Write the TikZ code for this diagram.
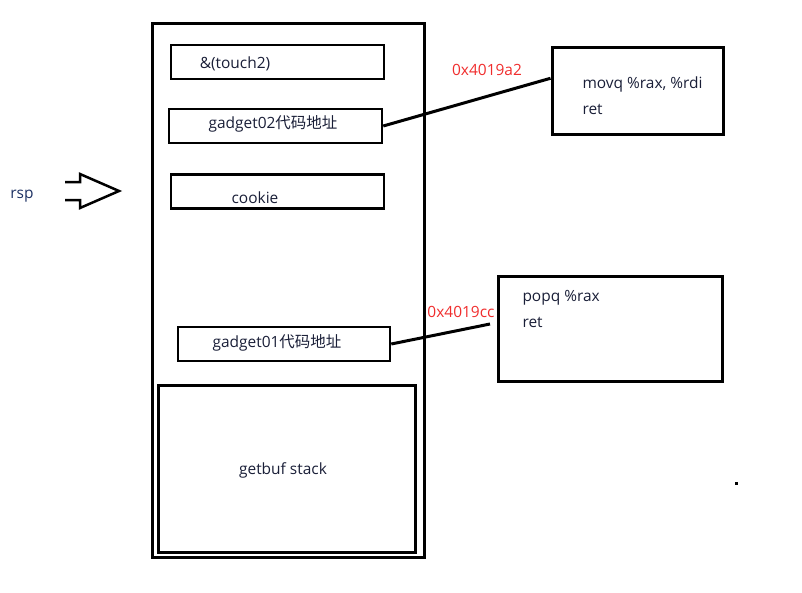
\documentclass[tikz,border=0pt]{standalone}
\usepackage{fontspec}
\setmainfont{Open Sans}
\newfontfamily\cjk{Noto Sans CJK SC}
\usetikzlibrary{positioning}
\newlength\pxu
\setlength\pxu{0.025cm}
\definecolor{addrred}{RGB}{240,45,45}
\definecolor{txtcol}{RGB}{25,30,55}
\definecolor{rspblue}{RGB}{30,50,100}

\begin{document}
\begin{tikzpicture}[x=1\pxu, y=-1\pxu, line width=3\pxu, inner sep=0pt, text=txtcol, font=\fontsize{11}{13}\selectfont]
	\tikzstyle{slot}=[draw, rectangle, line width=2.5\pxu, minimum width=213\pxu, minimum height=34\pxu]
	\tikzstyle{gadget}=[draw, rectangle, line width=3\pxu]
	\tikzstyle{code}=[anchor=west, align=left, font=\fontsize{11}{18.4}\selectfont]
	\tikzstyle{addr}=[text=addrred]
	\useasboundingbox (0,0) rectangle (802,592);

	%PILA
	\node[draw, minimum width=272\pxu, minimum height=534\pxu]	(stack)	at (288,290)	{};
	\node[slot]					(touch)		at (277.5,62)	{};
	\node[slot]					(g02)		at (275.5,126)	{};
	\node[slot]					(cookie)	at (277.5,191.5)	{};
	\node[slot, minimum width=212\pxu]		(g01)		at (284,344)	{};
	\node[draw, minimum width=257\pxu, minimum height=167\pxu]	(getbuf)	at (286.5,468.5)	{};

	%TEXTOS
	\node						(ttouch)	at (235,64)	{\&(touch2)};
	\node						(tg02)		at (273,124)	{gadget02{\cjk 代码地址}};
	\node						(tcookie)	at (255,198)	{cookie};
	\node						(tg01)		at (277,343)	{gadget01{\cjk 代码地址}};
	\node						(tgetbuf)	at (283,470)	{getbuf stack};

	%GADGETS
	\node[gadget, minimum width=171\pxu, minimum height=87\pxu]	(movq)	at (637.5,90.5)	{};
	\node[gadget, minimum width=224\pxu, minimum height=105\pxu]	(popq)	at (610,328.5)	{};
	\node[code]					(tmovq)		at (581,96)	{movq \%rax, \%rdi\\ret};
	\node[code]					(tpopq)		at (521,309)	{popq \%rax\\ret};

	%DIRECCIONES
	\node[addr]					(a02)		at (487,70)	{0x4019a2};
	\node[addr]					(a01)		at (461,312)	{0x4019cc};
	\coordinate					(g01end)	at (490,324);
	\draw (g02.east) -- (movq.172);
	\draw (g01.east) -- (g01end);

	%RSP
	\node[text=rspblue]				(rsp)		at (22,196)	{rsp};
	\draw[line width=2.5\pxu] (65,182) -- (80,182) -- (80,174) -- (119,191) -- (80,208) -- (80,200) -- (65,200);
	\fill (734.5,481.5) rectangle (737.5,484.5);
\end{tikzpicture}
\end{document}
